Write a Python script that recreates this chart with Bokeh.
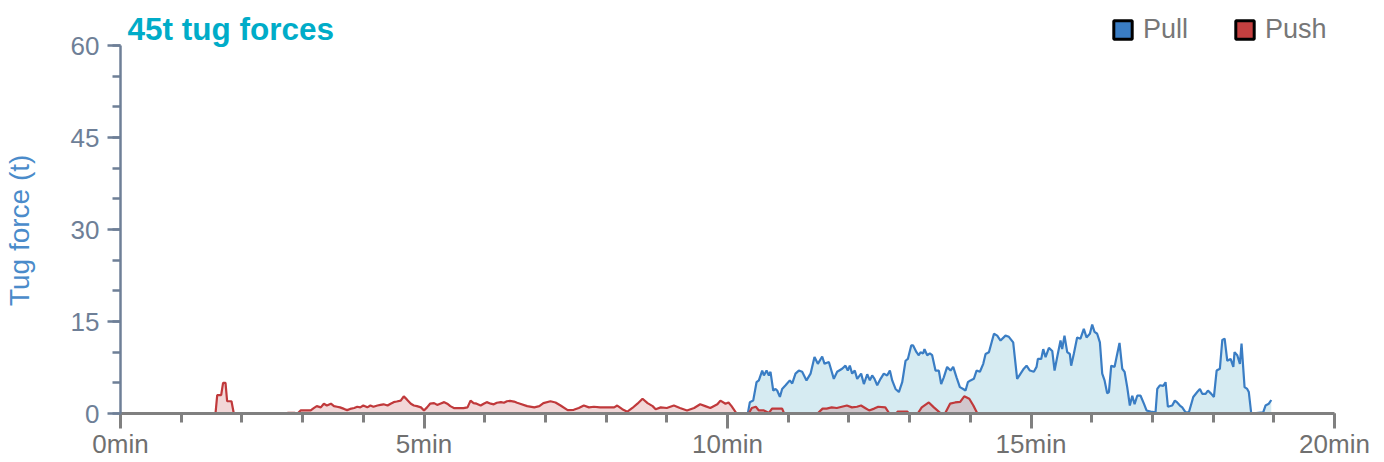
from bokeh.plotting import figure
from bokeh.models import (Range1d, FixedTicker, Label, Legend, LegendItem,
                          ColumnDataSource)
from bokeh.embed import file_html
from bokeh.resources import INLINE

# ---- data (time in seconds, force in tonnes) ----
pull_t = [0, 620.1, 622.1, 625.4, 628.7, 631.0, 634.3, 636.0, 638.6, 640.9, 642.5, 645.2, 647.5, 649.1,
          651.8, 654.0, 657.4, 661.6, 664.0, 667.2, 670.5, 673.8, 678.1, 682.1, 686.0, 689.3, 693.6,
          695.9, 700.2, 705.1, 708.4, 713.3, 716.6, 718.9, 720.9, 723.2, 725.8, 728.2, 732.1, 734.8,
          738.1, 740.7, 743.0, 745.3, 748.0, 751.3, 754.5, 757.8, 760.5, 762.8, 766.1, 769.4, 772.7,
          776.0, 778.3, 781.6, 783.5, 786.8, 789.1, 790.8, 793.4, 794.7, 797.4, 800.0, 802.3, 805.6,
          808.9, 811.2, 813.8, 817.1, 820.5, 823.1, 826.4, 829.7, 833.0, 835.3, 837.6, 840.2, 843.5,
          846.2, 849.5, 852.8, 855.1, 858.4, 863.4, 866.6, 869.9, 874.8, 878.1, 882.4, 886.3, 889.7,
          892.9, 895.6, 898.9, 902.8, 905.5, 906.8, 910.1, 912.1, 914.4, 917.7, 921.0, 923.3, 925.9,
          929.2, 930.8, 933.1, 935.8, 938.4, 939.7, 942.3, 945.6, 948.9, 952.2, 954.9, 958.2, 960.5,
          962.8, 965.4, 968.1, 970.4, 972.7, 975.3, 977.0, 979.3, 982.6, 984.6, 987.5, 990.2, 992.5,
          995.1, 997.7, 1000.1, 1002.4, 1005.0, 1008.3, 1011.6, 1014.2, 1018.2, 1023.1, 1024.8, 1027.4,
          1030.7, 1033.0, 1035.3, 1039.6, 1042.2, 1044.5, 1047.2, 1049.5, 1052.8, 1056.1, 1060.4,
          1064.3, 1067.0, 1069.3, 1072.6, 1074.9, 1078.2, 1080.8, 1083.5, 1086.7, 1089.1, 1091.4,
          1094.0, 1097.3, 1100.0, 1101.2, 1103.9, 1106.5, 1108.1, 1111.1, 1113.7, 1115.3, 1117.7,
          1129.5, 1131.8, 1135.1, 1137.5]
pull_v = [0, 0, 1.85, 2.1, 5.1, 5.4, 7.0, 6.2, 7.0, 6.2, 6.8, 3.75, 4.0, 3.75,
          2.7, 4.0, 4.6, 5.4, 4.9, 6.5, 7.0, 6.8, 5.4, 6.5, 9.2, 8.1, 9.3,
          8.1, 8.4, 5.65, 6.8, 7.3, 7.8, 7.0, 7.8, 6.5, 7.0, 5.65, 6.5, 4.8,
          6.4, 5.4, 6.2, 5.65, 4.6, 5.65, 6.5, 6.2, 7.0, 5.4, 4.0, 3.5, 5.1,
          8.6, 8.9, 11.1, 11.1, 10.0, 9.5, 10.0, 9.8, 10.5, 9.5, 9.8, 9.5, 7.0,
          7.0, 4.8, 5.9, 7.6, 7.0, 7.6, 5.9, 4.3, 4.0, 3.75, 5.1, 5.4, 5.65,
          7.0, 6.8, 8.1, 9.7, 10.0, 13.0, 12.7, 11.9, 12.7, 12.5, 11.6, 5.65, 6.5,
          7.3, 7.8, 7.0, 6.8, 7.6, 8.9, 8.9, 10.5, 9.2, 10.7, 10.2, 7.0, 9.2,
          11.9, 10.5, 12.7, 10.0, 9.7, 7.8, 9.7, 12.4, 12.2, 13.8, 12.4, 13.0, 14.5,
          13.3, 13.0, 11.6, 6.5, 5.4, 3.3, 3.5, 7.8, 7.6, 9.2, 11.5, 7.3, 6.8,
          4.3, 1.3, 2.9, 1.5, 2.9, 2.9, 1.6, 0.5, 0.3, 0.2, 4.0, 4.6,
          4.5, 5.1, 1.1, 1.3, 2.1, 1.8, 1.3, 1.0, 0.2, 0.2, 2.7,
          3.5, 4.0, 3.2, 3.2, 3.75, 3.2, 2.7, 7.0, 7.3, 12.0, 12.2,
          8.6, 8.9, 7.6, 10.0, 9.5, 8.1, 11.4, 4.3, 4.0, 3.5, 0,
          0.2, 1.3, 1.6, 2.2]

push_t = [0, 93.9, 95.6, 99.5, 101.4, 103.8, 105.4, 109.7, 112, 160, 166, 172, 175, 178, 188, 191,
          194, 198, 201, 204, 208, 211, 214, 217, 221, 224, 227, 231, 234, 237, 240, 244, 247, 250,
          254, 257, 260, 264, 267, 270, 273, 277, 280, 283, 287, 290, 293, 297, 300, 303, 306, 310,
          313, 316, 320, 323, 326, 330, 333, 336, 339, 343, 346, 349, 352, 356, 359, 362, 366, 369,
          372, 376, 379, 382, 385, 389, 392, 395, 402, 409, 414, 418, 425, 430, 435, 442, 448, 453,
          458, 463, 468, 474, 481, 488, 491, 496, 501, 506, 511, 516, 521, 526, 529, 534, 540, 547,
          553, 560, 567, 573, 578, 583, 590, 593, 598, 601, 604, 609, 621, 624, 628, 631, 636, 641,
          644, 649, 654, 656, 689, 694, 698, 703, 708, 713, 718, 723, 728, 732, 736, 740, 745, 749,
          756, 760, 767, 768, 778, 779, 788, 792, 799, 804, 811, 815, 820, 825, 830, 834, 839, 843,
          847, 1140]
push_v = [0, 0, 3.0, 3.0, 5.0, 5.0, 2.0, 2.0, 0, 0, 0.1, 0.1, 0, 0.5, 0.5, 0.87,
          1.2, 1.0, 1.6, 1.3, 1.6, 1.2, 1.1, 1.0, 0.75, 0.55, 0.75, 0.9, 1.1, 1.0, 1.3, 1.0, 1.3, 1.1,
          1.3, 1.4, 1.5, 1.3, 1.6, 1.85, 1.95, 2.1, 2.8, 2.3, 1.6, 1.3, 1.2, 1.0, 0.5, 1.0, 1.6, 1.7,
          1.4, 1.6, 1.85, 1.6, 1.2, 0.87, 0.87, 0.87, 0.87, 1.0, 2.1, 1.7, 1.6, 1.3, 1.6, 1.85, 1.6, 1.5,
          1.75, 1.85, 1.75, 2.0, 2.05, 1.95, 1.75, 1.6, 1.2, 1.0, 1.2, 1.7, 2.0, 1.8, 1.3, 0.55, 0.6, 0.9,
          1.3, 1.0, 1.1, 1.0, 1.0, 1.0, 1.3, 0.7, 0.3, 0.9, 1.6, 2.4, 1.7, 1.2, 0.7, 1.0, 0.9, 1.3,
          0.9, 0.5, 0.9, 1.5, 1.2, 0.9, 1.5, 2.1, 1.6, 1.8, 1.2, 0, 0, 0.9, 1.1, 0.5, 0.5, 0.1,
          0.8, 0.8, 0.8, 0, 0, 0.8, 0.8, 1.0, 0.9, 1.1, 1.3, 1.0, 1.1, 1.3, 0.9, 0.5, 0.8, 1.1,
          1.0, 0, 0, 0.3, 0.3, 0, 0, 1.0, 1.8, 1.0, 0, 0, 1.6, 1.8, 1.9, 2.8, 2.4, 1.3,
          0, 0]

x_ticks = [0, 300, 600, 900, 1200]
x_tick_labels = ["0min", "5min", "10min", "15min", "20min"]
x_minor_ticks = list(range(0, 1201, 60))
y_ticks = [0, 15, 30, 45, 60]
y_minor_ticks = list(range(0, 61, 5))
series_names = ["Pull", "Push"]

FONT = "Liberation Sans"
PX_PER_T = 368 / 60.0
Y_TOP = 60 + 45 / PX_PER_T  # frame extends above the 60 t line to hold title and legend

p = figure(width=1384, height=462, output_backend="svg", toolbar_location=None,
           x_range=Range1d(0, 1200), y_range=Range1d(0, Y_TOP),
           min_border_left=120, min_border_right=50, min_border_top=0, min_border_bottom=49)
p.outline_line_color = None
p.xgrid.grid_line_color = None
p.ygrid.grid_line_color = None

pull_src = ColumnDataSource(dict(t=pull_t, v=pull_v))
push_src = ColumnDataSource(dict(t=push_t, v=push_v))

p.varea(x="t", y1=0, y2="v", source=pull_src, fill_color="#add8e6", fill_alpha=0.5)
p.line(x="t", y="v", source=pull_src, line_color="#3a7dc4", line_width=2.2)
p.varea(x="t", y1=0, y2="v", source=push_src, fill_color="#c0393b", fill_alpha=0.2)
p.line(x="t", y="v", source=push_src, line_color="#c0393b", line_width=2.2)

# axes
yax = p.yaxis[0]
yax.bounds = (0, 60)
yax.ticker = FixedTicker(ticks=y_ticks, minor_ticks=y_minor_ticks)
axc = "#6e7f97"
yax.axis_line_color = axc
yax.axis_line_width = 2.5
yax.major_tick_line_color = axc
yax.major_tick_line_width = 2.5
yax.minor_tick_line_color = axc
yax.minor_tick_line_width = 2.5
yax.major_tick_in = 0
yax.major_tick_out = 13
yax.minor_tick_in = 0
yax.minor_tick_out = 8
yax.major_label_text_color = axc
yax.major_label_text_font = FONT
yax.major_label_text_font_size = "26px"
yax.major_label_standoff = 8
# trailing no-break spaces keep the label centred on the 0-60 span rather than the taller frame
yax.axis_label = "Tug force (t)" + "\u00a0" * 6
yax.axis_label_text_color = "#4a8bca"
yax.axis_label_text_font = FONT
yax.axis_label_text_font_size = "28px"
yax.axis_label_text_font_style = "normal"
yax.axis_label_standoff = 33

xax = p.xaxis[0]
xax.ticker = FixedTicker(ticks=x_ticks, minor_ticks=x_minor_ticks)
xax.major_label_overrides = {t: lab for t, lab in zip(x_ticks, x_tick_labels)}
xc = "#808080"
xax.axis_line_color = xc
xax.axis_line_width = 3
xax.major_tick_line_color = xc
xax.major_tick_line_width = 3
xax.minor_tick_line_color = xc
xax.minor_tick_line_width = 3
xax.major_tick_in = 0
xax.major_tick_out = 15
xax.minor_tick_in = 0
xax.minor_tick_out = 9
xax.major_label_text_color = "#707070"
xax.major_label_text_font = FONT
xax.major_label_text_font_size = "26px"
xax.major_label_standoff = 0

# title
title = Label(x=7, y=62.77, text="45t tug forces", text_font=FONT, text_font_size="31.5px",
              text_font_style="bold", text_color="#00acc8", text_baseline="alphabetic")
p.add_layout(title)

# legend (off-screen one-point quads only supply the legend swatches)
r_pull = p.quad(left=[-20], right=[-10], top=[-20], bottom=[-30], fill_color="#3a7dc4",
                line_color="black", line_width=3)
r_push = p.quad(left=[-20], right=[-10], top=[-20], bottom=[-30], fill_color="#c34040",
                line_color="black", line_width=3)
legend = Legend(items=[LegendItem(label=series_names[0], renderers=[r_pull]),
                       LegendItem(label=series_names[1], renderers=[r_push])],
                location=(991, 368), orientation="horizontal",
                glyph_width=23, glyph_height=23, label_standoff=9, spacing=45,
                padding=0, margin=0, border_line_alpha=0, background_fill_alpha=0,
                label_text_font=FONT, label_text_font_size="27px", label_text_color="#777777")
p.add_layout(legend)

open("out.html", "w").write(file_html(p, INLINE))
